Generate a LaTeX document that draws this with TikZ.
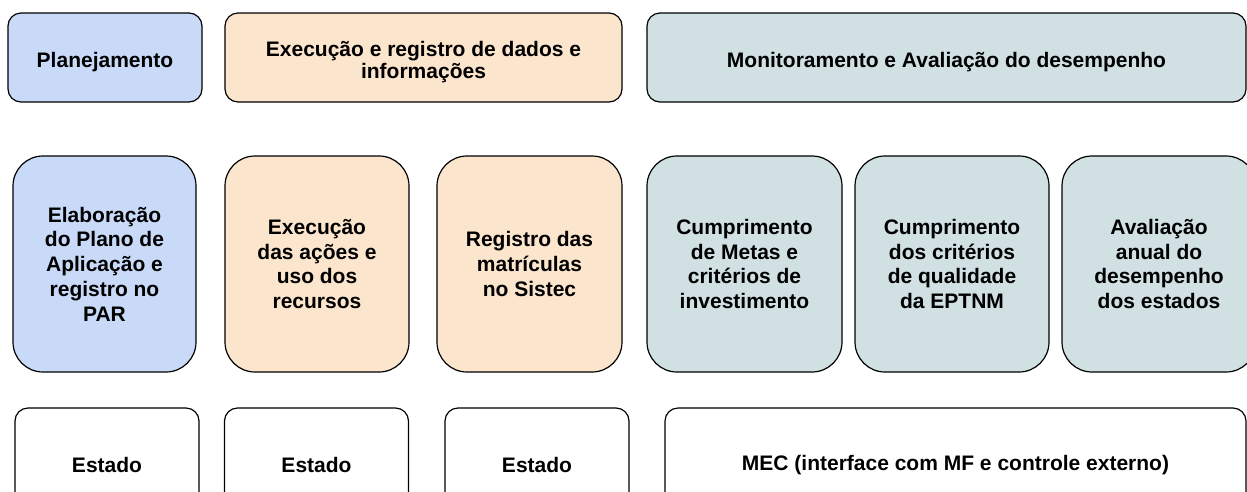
\documentclass[tikz,border=0pt]{standalone}
\usepackage{fontspec}
\setmainfont{Liberation Sans}

\definecolor{azul}{HTML}{C9DAF8}
\definecolor{laranja}{HTML}{FCE5CD}
\definecolor{cinza}{HTML}{D0E0E3}

\newcommand{\alto}{\rule{0pt}{24pt}}

\tikzset{
    caixa/.style={draw=black, line width=1.2pt, rounded corners=13pt, align=center,
        inner sep=0pt, font=\bfseries\fontsize{21}{24.8}\selectfont},
    fase/.style={caixa, minimum height=89pt, font=\bfseries\fontsize{21}{22}\selectfont},
    etapa/.style={caixa, rounded corners=30pt, minimum height=216pt},
    ator/.style={caixa, minimum height=114pt},
}

\begin{document}
\begin{tikzpicture}[x=1pt,y=-1pt]
    \useasboundingbox (0,0) rectangle (1247,491);
    \clip (0,0) rectangle (1247,491);
    % fases
    \node[fase, fill=azul, minimum width=194pt] (planejamento) at (105,57.5) {\alto Planejamento};
    \node[fase, fill=laranja, minimum width=397pt] (execucao) at (423.5,57.5) {\alto Execução e registro de dados e\\informações};
    \node[fase, fill=cinza, minimum width=599pt] (monitoramento) at (946.5,57.5) {\alto Monitoramento e Avaliação do desempenho};
    % etapas
    \foreach \cx/\w/\cor/\nome/\txt in {
        104.5/183/azul/elaboracao/{Elaboração\\do Plano de\\Aplicação e\\registro no\\PAR},
        317/184/laranja/acoes/{Execução\\das ações e\\uso dos\\recursos},
        529.5/185/laranja/registro/{Registro das\\matrículas\\no Sistec},
        744.5/195/cinza/metas/{Cumprimento\\de Metas e\\critérios de\\investimento},
        952/194/cinza/criterios/{Cumprimento\\dos critérios\\de qualidade\\da EPTNM},
        1159/194/cinza/avaliacao/{Avaliação\\anual do\\desempenho\\dos estados}%
    }{
            \node[etapa, fill=\cor, minimum width=\w pt] (\nome) at (\cx,264) {\txt};
        }
    % atores
    \node[ator, minimum width=184pt] (estado1) at (107,465) {Estado};
    \node[ator, minimum width=184pt] (estado2) at (316.5,465) {Estado};
    \node[ator, minimum width=184pt] (estado3) at (537,465) {Estado};
    \node[ator, minimum width=581pt] (mec) at (955.5,465) {MEC (interface com MF e controle externo)};
\end{tikzpicture}
\end{document}
